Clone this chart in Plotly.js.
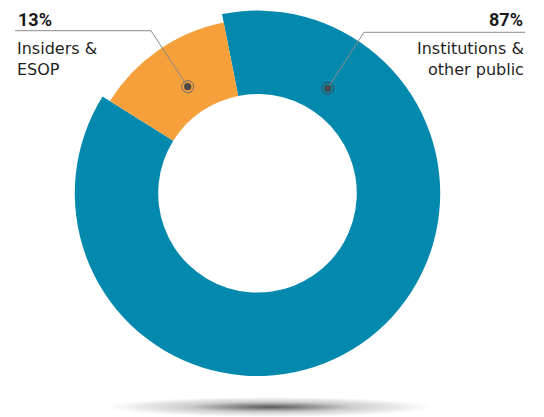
<!DOCTYPE html>
<html>
<head>
<meta charset="utf-8">
<script src="https://cdn.plot.ly/plotly-3.0.1.min.js"></script>
<style>html,body{margin:0;padding:0;background:#fff;}#chart{width:544px;height:417px;}</style>
</head>
<body>
<div id="chart"></div>
<script>
var categories = ["Insiders & ESOP", "Institutions & other public"];
var categoryLines = ["Insiders &<br>ESOP", "Institutions &<br>other public"];
var shares = [13, 87];
var pctLabels = ["13%", "87%"];

var W = 544, H = 417;
function px(x){ return x / W; }
function py(y){ return 1 - y / H; }

var teal = "#0389ad";
var orange = "#f5a03a";
var cx = 257.5, cy = 193.3;
var Rout = 182.7, Rin = 99.3, Ror = 174;

function dom(R){ return {x:[px(cx-R), px(cx+R)], y:[py(cy+R), py(cy-R)]}; }

var traceTeal = {
  type: "pie", labels: categories, values: shares, sort: false,
  direction: "clockwise", rotation: -58,
  hole: Rin / Rout, domain: dom(Rout),
  marker: {colors: ["rgba(0,0,0,0)", teal], line: {width: 0}},
  textinfo: "none", hoverinfo: "label+percent", showlegend: false
};
var traceOrange = {
  type: "pie", labels: categories, values: shares, sort: false,
  direction: "clockwise", rotation: -58,
  hole: Rin / Ror, domain: dom(Ror),
  marker: {colors: [orange, "rgba(0,0,0,0)"], line: {width: 0}},
  textinfo: "none", hoverinfo: "label+percent", showlegend: false
};

var lineCol = "#8a8a8a";
function seg(x0,y0,x1,y1){ return {type:"line", xref:"paper", yref:"paper", x0:px(x0), y0:py(y0), x1:px(x1), y1:py(y1), line:{color:lineCol, width:1}}; }
function circ(x,y,r,fill,lc,lw){ return {type:"circle", xref:"paper", yref:"paper", x0:px(x-r), x1:px(x+r), y0:py(y+r), y1:py(y-r), fillcolor:fill, line:{color:lc, width:lw}}; }

var shapes = [
  seg(15,30.7,151,30.7), seg(151,30.7,187.7,86.7),
  seg(364,32.3,525,32.3), seg(364,32.3,327.7,88.3),
  circ(187.7,86.7,6,"rgba(0,0,0,0)","#6a6a6a",1), circ(187.7,86.7,3.6,"#4a4a4a","#4a4a4a",0),
  circ(327.7,88.3,6,"rgba(0,0,0,0)","#4a4a4a",1), circ(327.7,88.3,3.6,"#4a4a4a","#4a4a4a",0)
];

var svg = '<svg xmlns="http://www.w3.org/2000/svg" width="326" height="20" viewBox="0 0 326 20"><defs><radialGradient id="g" cx="50%" cy="50%" r="50%"><stop offset="0" stop-color="#000" stop-opacity="0.65"/><stop offset="0.5" stop-color="#000" stop-opacity="0.2"/><stop offset="1" stop-color="#000" stop-opacity="0"/></radialGradient></defs><ellipse cx="163" cy="10" rx="163" ry="10" fill="url(#g)"/></svg>';

var pctFont = "Roboto, 'Liberation Sans', sans-serif";
var font = "'DejaVu Sans', sans-serif";
var annotations = [
  {xref:"paper", yref:"paper", x:px(16), y:py(19.5), xanchor:"left", yanchor:"middle", text:"<b>"+pctLabels[0]+"</b>", showarrow:false, font:{family:pctFont, size:18, color:"#1a1a1a"}},
  {xref:"paper", yref:"paper", x:px(15), y:py(58.5), xanchor:"left", yanchor:"middle", align:"left", text:categoryLines[0], showarrow:false, font:{family:font, size:16, color:"#1f1f1f"}},
  {xref:"paper", yref:"paper", x:px(525), y:py(19.5), xanchor:"right", yanchor:"middle", text:"<b>"+pctLabels[1]+"</b>", showarrow:false, font:{family:pctFont, size:18, color:"#1a1a1a"}},
  {xref:"paper", yref:"paper", x:px(526), y:py(58.5), xanchor:"right", yanchor:"middle", align:"right", text:categoryLines[1], showarrow:false, font:{family:font, size:16, color:"#1f1f1f"}}
];

var layout = {
  width: W, height: H, margin: {l:0, r:0, t:0, b:0},
  paper_bgcolor: "#fff", plot_bgcolor: "#fff", showlegend: false,
  shapes: shapes, annotations: annotations,
  images: [{source: "data:image/svg+xml;charset=utf-8," + encodeURIComponent(svg), xref:"paper", yref:"paper", x:px(107), y:py(397), sizex:326/W, sizey:20/H, xanchor:"left", yanchor:"top", sizing:"stretch", layer:"below"}]
};

Plotly.newPlot("chart", [traceTeal, traceOrange], layout, {displayModeBar:false, staticPlot:true});
</script>
</body>
</html>
